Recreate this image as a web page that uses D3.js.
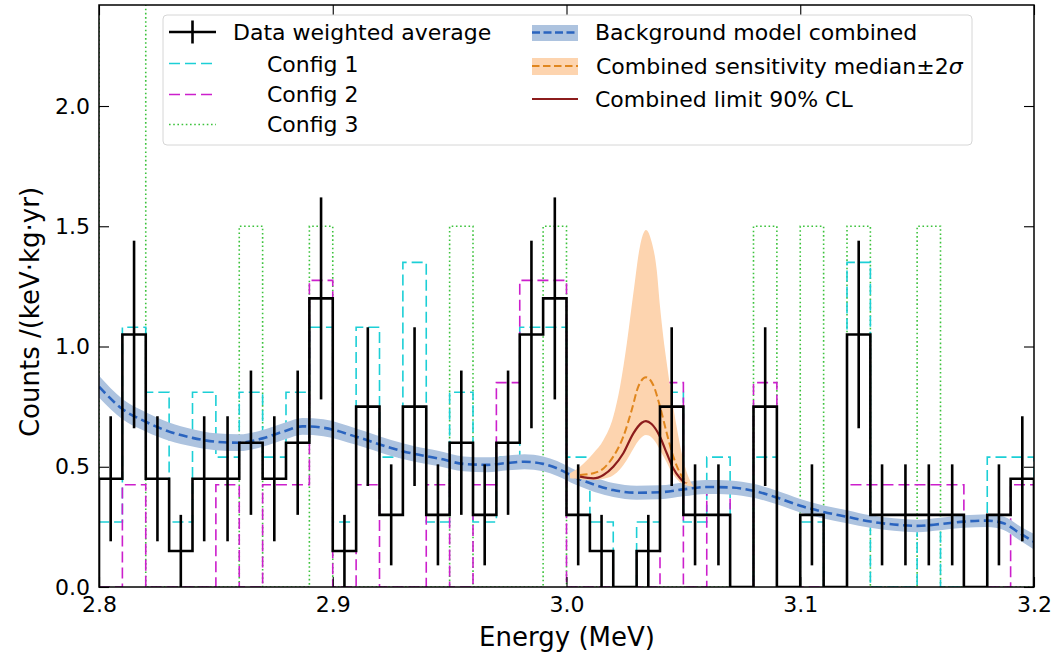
<!DOCTYPE html>
<html><head><meta charset="utf-8">
<script src="https://cdn.jsdelivr.net/npm/d3@7"></script>
<style>
body{margin:0;background:#fff}
svg{font-family:"DejaVu Sans",sans-serif;display:block}
</style>
</head><body>
<svg id="chart" width="1063" height="654"></svg>
<script>
// ---------------- data ----------------
const binLo = [2.80,2.81,2.82,2.83,2.84,2.85,2.86,2.87,2.88,2.89,2.90,2.91,2.92,2.93,2.94,2.95,2.96,2.97,2.98,2.99,
               3.00,3.01,3.02,3.03,3.04,3.05,3.06,3.07,3.08,3.09,3.10,3.11,3.12,3.13,3.14,3.15,3.16,3.17,3.18,3.19];
const binWidth = 0.01;
const dataAvg = [0.45,1.05,0.45,0.15,0.45,0.45,0.60,0.45,0.60,1.20,0.15,0.75,0.30,0.75,0.30,0.60,0.30,0.60,1.05,1.20,
                 0.30,0.15,0,0.15,0.75,0.30,0.30,0,0.75,0,0.30,0,1.05,0.30,0.30,0.30,0.30,0,0.30,0.45];
const dataErr = [0.26,0.39,0.26,0.15,0.26,0.26,0.30,0.26,0.30,0.42,0.15,0.33,0.21,0.33,0.21,0.30,0.21,0.30,0.39,0.42,
                 0.21,0.15,0,0.15,0.33,0.21,0.21,0,0.33,0,0.21,0,0.39,0.21,0.21,0.21,0.21,0,0.21,0.26];
const config1 = [0.27,1.08,0.81,0.27,0.81,0.54,0.81,0.54,0.81,1.08,0.27,1.08,0.54,1.35,0.27,0.81,0.27,0.54,1.08,1.08,
                 0.54,0.27,0,0.27,0.81,0.27,0.54,0,0.54,0,0.27,0,1.35,0,0,0.27,0,0,0.54,0.54];
const config2 = [0,0.425,0,0,0,0.425,0,0.425,0.425,1.275,0,0.425,0,0,0.425,0,0.425,0.85,1.275,1.275,
                 0,0,0,0,0.85,0,0.425,0,0.85,0,0,0,0.425,0.425,0.425,0.425,0.425,0,0,0.425];
const config3 = [3.0,3.0,0,0,0,0,1.5,0,0,1.5,0,0,0,0,0,1.5,0,0,0,1.5,
                 0,0,0,0,0,0,0,0,1.5,0,1.5,0,1.5,0,0,1.5,0,0,0,0];

const bkgE = [2.800,2.810,2.820,2.830,2.840,2.850,2.860,2.870,2.880,2.887,2.896,2.910,2.925,2.935,2.945,2.956,2.966,2.975,2.982,2.990,2.996,
              3.004,3.012,3.020,3.030,3.040,3.050,3.060,3.070,3.080,3.090,3.100,3.110,3.120,3.130,3.140,3.150,3.160,3.170,3.180,3.187,3.194,3.200];
const bkgV = [0.833,0.740,0.687,0.646,0.620,0.604,0.600,0.618,0.650,0.668,0.662,0.625,0.578,0.553,0.535,0.512,0.508,0.516,0.521,0.512,0.493,
              0.455,0.425,0.403,0.392,0.394,0.406,0.416,0.414,0.400,0.372,0.338,0.312,0.292,0.272,0.260,0.254,0.262,0.272,0.276,0.265,0.223,0.188];
const bkgErr = [0.045,0.042,0.040,0.038,0.036,0.035,0.035,0.035,0.035,0.035,0.035,0.034,0.033,0.032,0.032,0.031,0.031,0.031,0.031,0.031,0.031,
               0.030,0.030,0.029,0.029,0.029,0.029,0.029,0.029,0.029,0.028,0.028,0.027,0.027,0.026,0.026,0.026,0.026,0.026,0.027,0.028,0.030,0.032];

const sensE  = [3.0015,3.0058,3.0115,3.0158,3.0200,3.0229,3.0258,3.0286,3.0314,3.0340,3.0364,3.0386,3.0400,3.0414,3.0429,3.0450,3.0471,3.0493,3.0521,3.0543];
const sensHi = [0.473,0.500,0.556,0.611,0.708,0.833,1.013,1.221,1.415,1.484,1.436,1.318,1.166,1.041,0.930,0.791,0.667,0.556,0.459,0.418];
const sensLo = [0.452,0.448,0.445,0.450,0.465,0.490,0.528,0.575,0.615,0.632,0.622,0.595,0.570,0.545,0.518,0.478,0.450,0.430,0.420,0.418];
const medE = [3.0058,3.0115,3.0158,3.0200,3.0243,3.0279,3.0307,3.0340,3.0371,3.0400,3.0429,3.0457,3.0486,3.0514];
const medV = [0.466,0.473,0.493,0.542,0.625,0.736,0.833,0.872,0.840,0.750,0.639,0.542,0.473,0.431];
const limE = [3.0058,3.0115,3.0158,3.0200,3.0243,3.0286,3.0322,3.0340,3.0364,3.0400,3.0429,3.0457,3.0486,3.0507];
const limV = [0.459,0.452,0.466,0.500,0.556,0.639,0.683,0.690,0.678,0.625,0.556,0.493,0.452,0.431];

const xTicks = [2.8,2.9,3.0,3.1,3.2];
const yTicks = [0.0,0.5,1.0,1.5,2.0];

// ---------------- layout ----------------
const M = {left:99, top:5, right:1034, bottom:587};
const svg = d3.select("#chart");
const x = d3.scaleLinear().domain([2.8,3.2]).range([M.left,M.right]);
const y = d3.scaleLinear().domain([0,2.42]).range([M.bottom,M.top]);

const C = {
  c1:"#1ccfd6", c2:"#cc1fcc", c3:"#3cc23c",
  bandB:"#adc3df", lineB:"#2a64bf",
  bandO:"#fdd4af", lineO:"#e0861e", lim:"#8c1c1c"
};

svg.append("defs").append("clipPath").attr("id","clip")
  .append("rect").attr("x",M.left).attr("y",M.top).attr("width",M.right-M.left).attr("height",M.bottom-M.top);
const plot = svg.append("g").attr("clip-path","url(#clip)");

function stepPts(vals){
  const p=[[binLo[0],0]];
  vals.forEach((v,i)=>{p.push([binLo[i],v]);p.push([binLo[i]+binWidth,v]);});
  p.push([binLo[binLo.length-1]+binWidth,0]);
  return p;
}
const stepLine = d3.line().x(d=>x(d[0])).y(d=>y(d[1]));

// config histograms
plot.append("path").attr("d",stepLine(stepPts(config3))).attr("fill","none")
  .attr("stroke",C.c3).attr("stroke-width",1.6).attr("stroke-dasharray","1.6,2.6");
plot.append("path").attr("d",stepLine(stepPts(config1))).attr("fill","none")
  .attr("stroke",C.c1).attr("stroke-width",1.6).attr("stroke-dasharray","11,5");
plot.append("path").attr("d",stepLine(stepPts(config2))).attr("fill","none")
  .attr("stroke",C.c2).attr("stroke-width",1.6).attr("stroke-dasharray","11,5");

// background band + line
const bkg = bkgE.map((e,i)=>({e, v:bkgV[i], s:bkgErr[i]}));
plot.append("path").datum(bkg)
  .attr("d",d3.area().x(d=>x(d.e)).y0(d=>y(d.v-d.s)).y1(d=>y(d.v+d.s)).curve(d3.curveMonotoneX))
  .attr("fill",C.bandB);
plot.append("path").datum(bkg)
  .attr("d",d3.line().x(d=>x(d.e)).y(d=>y(d.v)).curve(d3.curveMonotoneX))
  .attr("fill","none").attr("stroke",C.lineB).attr("stroke-width",2.6).attr("stroke-dasharray","9,4.5");

// sensitivity band, median, limit
const sens = sensE.map((e,i)=>({e, hi:sensHi[i], lo:sensLo[i]}));
plot.append("path").datum(sens)
  .attr("d",d3.area().x(d=>x(d.e)).y0(d=>y(d.lo)).y1(d=>y(d.hi)).curve(d3.curveMonotoneX))
  .attr("fill",C.bandO);
plot.append("path").datum(medE.map((e,i)=>[e,medV[i]]))
  .attr("d",d3.line().x(d=>x(d[0])).y(d=>y(d[1])).curve(d3.curveMonotoneX))
  .attr("fill","none").attr("stroke",C.lineO).attr("stroke-width",2).attr("stroke-dasharray","7.5,3.5");
plot.append("path").datum(limE.map((e,i)=>[e,limV[i]]))
  .attr("d",d3.line().x(d=>x(d[0])).y(d=>y(d[1])).curve(d3.curveMonotoneX))
  .attr("fill","none").attr("stroke",C.lim).attr("stroke-width",2.2);

// data: step + error bars
plot.append("path").attr("d",stepLine(stepPts(dataAvg))).attr("fill","none")
  .attr("stroke","#000").attr("stroke-width",2.6).attr("stroke-linejoin","miter");
plot.append("g").selectAll("line").data(binLo.map((b,i)=>({c:b+binWidth/2,v:dataAvg[i],e:dataErr[i]})).filter(d=>d.e>0))
  .join("line")
  .attr("x1",d=>x(d.c)).attr("x2",d=>x(d.c))
  .attr("y1",d=>y(Math.max(0,d.v-d.e))).attr("y2",d=>y(d.v+d.e))
  .attr("stroke","#000").attr("stroke-width",2.6);

// ---------------- axes ----------------
const fs = 22;
const fmt = d3.format(".1f");
function styleAxis(g){
  g.select(".domain").remove();
  g.selectAll(".tick line").attr("stroke","#000").attr("stroke-width",1.1);
  g.selectAll(".tick text").attr("font-size",fs).attr("font-family","DejaVu Sans").attr("fill","#000");
}
svg.append("g").attr("transform",`translate(0,${M.bottom})`)
  .call(d3.axisBottom(x).tickValues(xTicks).tickFormat(fmt).tickSizeInner(-10).tickSizeOuter(0).tickPadding(9))
  .call(styleAxis);
svg.append("g").attr("transform",`translate(0,${M.top})`)
  .call(d3.axisTop(x).tickValues(xTicks).tickFormat("").tickSizeInner(-10).tickSizeOuter(0))
  .call(styleAxis);
svg.append("g").attr("transform",`translate(${M.left},0)`)
  .call(d3.axisLeft(y).tickValues(yTicks).tickFormat(fmt).tickSizeInner(-10).tickSizeOuter(0).tickPadding(9))
  .call(styleAxis);
svg.append("g").attr("transform",`translate(${M.right},0)`)
  .call(d3.axisRight(y).tickValues(yTicks).tickFormat("").tickSizeInner(-10).tickSizeOuter(0))
  .call(styleAxis);

svg.append("rect").attr("x",M.left).attr("y",M.top).attr("width",M.right-M.left).attr("height",M.bottom-M.top)
  .attr("fill","none").attr("stroke","#000").attr("stroke-width",1.5);

svg.append("text").attr("x",567).attr("y",646).attr("text-anchor","middle")
  .attr("font-size",26).attr("fill","#000").text("Energy (MeV)");
svg.append("text").attr("transform",`translate(39,312) rotate(-90)`).attr("text-anchor","middle")
  .attr("font-size",26).attr("fill","#000").text("Counts /(keV·kg·yr)");

// ---------------- legend ----------------
const lg = svg.append("g");
lg.append("rect").attr("x",163).attr("y",15).attr("width",809).attr("height",130).attr("rx",4)
  .attr("fill","#fff").attr("fill-opacity",0.85).attr("stroke","#d6d6d6").attr("stroke-width",1);
const lfs = 22;
// column 1
lg.append("line").attr("x1",169).attr("x2",216).attr("y1",32).attr("y2",32).attr("stroke","#000").attr("stroke-width",2.6);
lg.append("line").attr("x1",192.5).attr("x2",192.5).attr("y1",20.5).attr("y2",43.5).attr("stroke","#000").attr("stroke-width",2.6);
lg.append("text").attr("x",233).attr("y",40).attr("font-size",lfs).text("Data weighted average");
const col1 = [
  {lab:"Config 1", col:C.c1, dash:"11,5", yl:63.5, yt:71.7},
  {lab:"Config 2", col:C.c2, dash:"11,5", yl:94.5, yt:101.7},
  {lab:"Config 3", col:C.c3, dash:"1.6,2.6", yl:124.5, yt:131.7}
];
col1.forEach(d=>{
  lg.append("line").attr("x1",169).attr("x2",216).attr("y1",d.yl).attr("y2",d.yl)
    .attr("stroke",d.col).attr("stroke-width",1.6).attr("stroke-dasharray",d.dash);
  lg.append("text").attr("x",267).attr("y",d.yt).attr("font-size",lfs).text(d.lab);
});
// column 2
lg.append("rect").attr("x",532).attr("y",25).attr("width",46).attr("height",16).attr("fill",C.bandB);
lg.append("line").attr("x1",532).attr("x2",578).attr("y1",32.5).attr("y2",32.5).attr("stroke",C.lineB)
  .attr("stroke-width",2.6).attr("stroke-dasharray","8,3.5");
lg.append("text").attr("x",595).attr("y",40).attr("font-size",lfs).text("Background model combined");
lg.append("rect").attr("x",532).attr("y",58).attr("width",46).attr("height",17).attr("fill",C.bandO);
lg.append("line").attr("x1",532).attr("x2",578).attr("y1",66).attr("y2",66).attr("stroke",C.lineO)
  .attr("stroke-width",2).attr("stroke-dasharray","7.5,3.5");
const t2 = lg.append("text").attr("x",596).attr("y",74).attr("font-size",lfs);
t2.append("tspan").text("Combined sensitivity median±2");
t2.append("tspan").attr("font-style","italic").text("σ");
lg.append("line").attr("x1",532).attr("x2",578).attr("y1",99).attr("y2",99).attr("stroke",C.lim).attr("stroke-width",2.2);
lg.append("text").attr("x",595).attr("y",106.7).attr("font-size",lfs).text("Combined limit 90% CL");
</script>
</body></html>
